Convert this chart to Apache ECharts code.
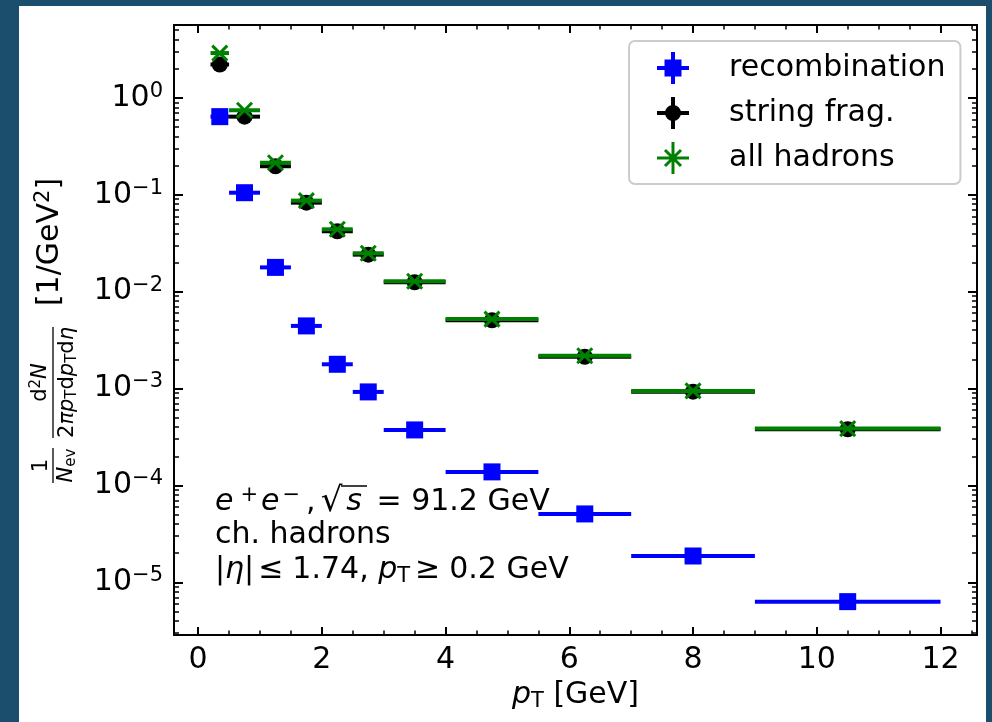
<!DOCTYPE html>
<html>
<head>
<meta charset="utf-8">
<script src="https://cdn.jsdelivr.net/npm/echarts@6/dist/echarts.min.js"></script>
<style>
  html, body { margin: 0; padding: 0; width: 992px; height: 722px; overflow: hidden; background: #1b4d6c; }
  #panel { position: absolute; left: 19px; top: 6px; width: 967px; height: 716px; background: #ffffff; }
  #chart { width: 967px; height: 716px; }
</style>
</head>
<body>
<div id="panel"><div id="chart"></div></div>
<script>
// pT bins [GeV]
const binLow    = [0.2, 0.5, 1.0, 1.5, 2.0, 2.5, 3.0, 4.0, 5.5, 7.0, 9.0];
const binHigh   = [0.5, 1.0, 1.5, 2.0, 2.5, 3.0, 4.0, 5.5, 7.0, 9.0, 12.0];
const binCenter = [0.35, 0.75, 1.25, 1.75, 2.25, 2.75, 3.5, 4.75, 6.25, 8.0, 10.5];

// 1/N_ev d2N/(2 pi pT dpT deta) [1/GeV^2]
const recombination = [0.640, 0.105, 0.0178, 0.00443, 0.00178, 0.000923, 0.000374, 0.000138, 5.08e-5, 1.87e-5, 6.32e-6];
const stringFrag    = [2.21, 0.640, 0.197, 0.0829, 0.0420, 0.0241, 0.0125, 0.00507, 0.00213, 0.000929, 0.000380];
const allHadrons    = [2.90, 0.745, 0.214, 0.0870, 0.0440, 0.0249, 0.0128, 0.00521, 0.00218, 0.000946, 0.000386];

const seriesNames = ['recombination', 'string frag.', 'all hadrons'];

// axis ranges and ticks
const xRange = [-0.39, 12.59];
const yRange = [2.86e-6, 5.65];
const xMajorTicks = [0, 2, 4, 6, 8, 10, 12];
const xMinorTicks = [0.5, 1, 1.5, 2.5, 3, 3.5, 4.5, 5, 5.5, 6.5, 7, 7.5, 8.5, 9, 9.5, 10.5, 11, 11.5, 12.5];
const yMajorTicks = [1e-5, 1e-4, 1e-3, 1e-2, 1e-1, 1];
const yMinorMantissas = [2, 3, 4, 5, 6, 7, 8, 9];
const yMinorDecades = [1e-6, 1e-5, 1e-4, 1e-3, 1e-2, 1e-1, 1];

const yMinorTicks = [];
yMinorDecades.forEach(d => yMinorMantissas.forEach(m => {
  const v = +(m * d).toPrecision(3);
  if (v > yRange[0] && v < yRange[1]) yMinorTicks.push(v);
}));

const F = 'DejaVu Sans';
const INK = '#000000';

function richSet(size, lh) {
  const small = Math.round(size * 0.7);
  return {
    n:  { fontFamily: F, fontSize: size, lineHeight: lh, color: INK },
    i:  { fontFamily: F, fontSize: size, lineHeight: lh, color: INK, fontStyle: 'italic' },
    sp: { fontFamily: F, fontSize: small, lineHeight: Math.round(small * 0.85), color: INK, verticalAlign: 'top' },
    s:  { fontFamily: F, fontSize: small, lineHeight: small, color: INK, verticalAlign: 'bottom' }
  };
}
const rich30 = richSet(30, 34);
const rich21 = richSet(21, 24);

// extra tokens with math-style spacing for the annotation lines
const richNote = Object.assign({}, rich30, {
  a:  Object.assign({}, rich30.sp, { padding: [0, 3, 0, 7] }),
  b:  Object.assign({}, rich30.sp, { padding: [0, 6, 0, 3] }),
  c:  Object.assign({}, rich30.n, { padding: [0, 5, 0, 0] }),
  rt: { fontFamily: F, fontSize: 34, lineHeight: 34, color: INK },
  is: Object.assign({}, rich30.i, { padding: [0, 5, 0, 4] }),
  le: Object.assign({}, rich30.n, { padding: [0, 9, 0, 4] }),
  ge: Object.assign({}, rich30.n, { padding: [0, 9, 0, 5] })
});

function supMinus(e) { return e < 0 ? '\u2212' + (-e) : String(e); }

// horizontal error bar + marker for each bin
function errorbarSeries(name, values, color, marker) {
  return {
    type: 'custom',
    name: name,
    xAxisIndex: 0,
    yAxisIndex: 0,
    itemStyle: { color: color },
    encode: { x: [0, 1, 2], y: 3 },
    data: values.map((v, i) => [binLow[i], binHigh[i], binCenter[i], v]),
    renderItem: function (params, api) {
      const yv = api.value(3);
      const a = api.coord([api.value(0), yv]);
      const b = api.coord([api.value(1), yv]);
      const c = api.coord([api.value(2), yv]);
      const children = [{
        type: 'line',
        shape: { x1: a[0], y1: a[1], x2: b[0], y2: b[1] },
        style: { stroke: color, lineWidth: 4 }
      }];
      if (marker === 'square') {
        children.push({ type: 'rect', shape: { x: c[0] - 8.5, y: c[1] - 8.5, width: 17, height: 17 }, style: { fill: color } });
      } else if (marker === 'circle') {
        children.push({ type: 'circle', shape: { cx: c[0], cy: c[1], r: 8 }, style: { fill: color } });
      } else {
        const h = 7.5;
        children.push({ type: 'line', shape: { x1: c[0] - h, y1: c[1] - h, x2: c[0] + h, y2: c[1] + h }, style: { stroke: color, lineWidth: 3 } });
        children.push({ type: 'line', shape: { x1: c[0] - h, y1: c[1] + h, x2: c[0] + h, y2: c[1] - h }, style: { stroke: color, lineWidth: 3 } });
      }
      return { type: 'group', children: children };
    }
  };
}

const spine = { show: true, onZero: false, lineStyle: { color: INK, width: 2 } };
const noLine = { show: false, onZero: false };

function xAxisDef(position, major, showLabel) {
  return {
    type: 'value', position: position, min: xRange[0], max: xRange[1],
    axisLine: major ? spine : noLine,
    splitLine: { show: false },
    axisTick: { show: true, inside: true, length: major ? 8 : 4.5,
                lineStyle: { color: INK, width: major ? 2 : 1.5 },
                customValues: major ? xMajorTicks : xMinorTicks },
    axisLabel: showLabel
      ? { show: true, margin: 10, customValues: xMajorTicks, fontFamily: F, fontSize: 30, color: INK }
      : { show: false },
    axisPointer: { show: false }
  };
}

function yAxisDef(position, major, showLabel) {
  return {
    type: 'log', position: position, min: yRange[0], max: yRange[1],
    axisLine: major ? spine : noLine,
    splitLine: { show: false },
    axisTick: { show: true, inside: true, length: major ? 9 : 5,
                lineStyle: { color: INK, width: major ? 2 : 1.5 },
                customValues: major ? yMajorTicks : yMinorTicks },
    axisLabel: showLabel
      ? { show: true, margin: 11, customValues: yMajorTicks, rich: rich30,
          formatter: function (v) {
            const e = Math.round(Math.log10(v));
            return '{n|10}{sp|' + supMinus(e) + '}';
          } }
      : { show: false }
  };
}

const xAxes = [
  xAxisDef('bottom', true, true),
  xAxisDef('bottom', false, false),
  xAxisDef('top', true, false),
  xAxisDef('top', false, false)
];
xAxes[0].name = '{i|p}{s|T}{n| [GeV]}';
xAxes[0].nameLocation = 'middle';
xAxes[0].nameGap = 38;
xAxes[0].nameTextStyle = { rich: rich30 };

const yAxes = [
  yAxisDef('left', true, true),
  yAxisDef('left', false, false),
  yAxisDef('right', true, false),
  yAxisDef('right', false, false)
];

// legend icons: marker with horizontal and vertical error bars
const iconRecomb = 'path://M0,14H32V18H0Z M14,0H18V32H14Z M7.5,7.5H24.5V24.5H7.5Z';
const iconString = 'path://M0,14H32V18H0Z M14,0H18V32H14Z M8,16A8,8 0 1,1 24,16A8,8 0 1,1 8,16Z';
const iconAll = 'path://M0,14.5H32V17.5H0Z M14.5,0H17.5V32H14.5Z M9.06,6.94L25.06,22.94L22.94,25.06L6.94,9.06Z M25.06,9.06L9.06,25.06L6.94,22.94L22.94,6.94Z';

// y-axis title, rotated: 1/N_ev  d2N/(2 pi pT dpT deta)  [1/GeV^2]
const yTitle = {
  type: 'group', x: 34, y: 477, rotation: Math.PI / 2,
  children: [
    { type: 'line', shape: { x1: 0, y1: 0, x2: 35, y2: 0 }, style: { stroke: INK, lineWidth: 1.3 } },
    { type: 'text', x: 17.5, y: -11.5, style: { text: '{n|1}', rich: rich21, align: 'center', verticalAlign: 'middle' } },
    { type: 'text', x: 17.5, y: 14, style: { text: '{i|N}{s|ev}', rich: rich21, align: 'center', verticalAlign: 'middle' } },
    { type: 'line', shape: { x1: 45, y1: 0, x2: 156, y2: 0 }, style: { stroke: INK, lineWidth: 1.3 } },
    { type: 'text', x: 100.5, y: -12, style: { text: '{n|d}{sp|2}{i|N}', rich: rich21, align: 'center', verticalAlign: 'middle' } },
    { type: 'text', x: 100.5, y: 15, style: { text: '{n|2}{i|\u03c0p}{s|T}{n|d}{i|p}{s|T}{n|d}{i|\u03b7}', rich: rich21, align: 'center', verticalAlign: 'middle' } },
    { type: 'text', x: 241, y: -3, style: { text: '{n|[1/GeV}{sp|2}{n|]}', rich: rich30, align: 'center', verticalAlign: 'middle' } }
  ]
};

// collision / selection annotation
const notes = [
  { type: 'text', x: 196, y: 496, style: { text: '{i|e}{a|+}{i|e}{b|\u2212}{c|,}{rt|\u221a}{is|s}{n| = 91.2 GeV}', rich: richNote, align: 'left', verticalAlign: 'middle' } },
  { type: 'line', shape: { x1: 322, y1: 480, x2: 348, y2: 480 }, style: { stroke: INK, lineWidth: 1.5 } },
  { type: 'text', x: 196, y: 529, style: { text: '{n|ch. hadrons}', rich: richNote, align: 'left', verticalAlign: 'middle' } },
  { type: 'text', x: 196, y: 564, style: { text: '{n||}{i|\u03b7}{n||}{le|\u2264}{n|1.74, }{i|p}{s|T}{ge|\u2265}{n|0.2 GeV}', rich: richNote, align: 'left', verticalAlign: 'middle' } }
];

const chart = echarts.init(document.getElementById('chart'), null, { renderer: 'canvas' });
chart.setOption({
  animation: false,
  backgroundColor: '#ffffff',
  grid: { left: 155, top: 19, right: 9, bottom: 87, containLabel: false },
  xAxis: xAxes,
  yAxis: yAxes,
  legend: {
    orient: 'vertical', left: 610, top: 35,
    itemWidth: 32, itemHeight: 32, itemGap: 13,
    padding: [11, 15, 10, 28],
    backgroundColor: 'rgba(255,255,255,0.8)',
    borderColor: '#cccccc', borderWidth: 2, borderRadius: 6,
    selectedMode: false,
    textStyle: { fontFamily: F, fontSize: 30, color: INK, padding: [0, 0, 0, 35] },
    data: [
      { name: seriesNames[0], icon: iconRecomb },
      { name: seriesNames[1], icon: iconString },
      { name: seriesNames[2], icon: iconAll }
    ]
  },
  graphic: [yTitle].concat(notes),
  series: [
    errorbarSeries(seriesNames[0], recombination, '#0000ff', 'square'),
    errorbarSeries(seriesNames[1], stringFrag, '#000000', 'circle'),
    errorbarSeries(seriesNames[2], allHadrons, '#008000', 'x')
  ]
});
</script>
</body>
</html>
